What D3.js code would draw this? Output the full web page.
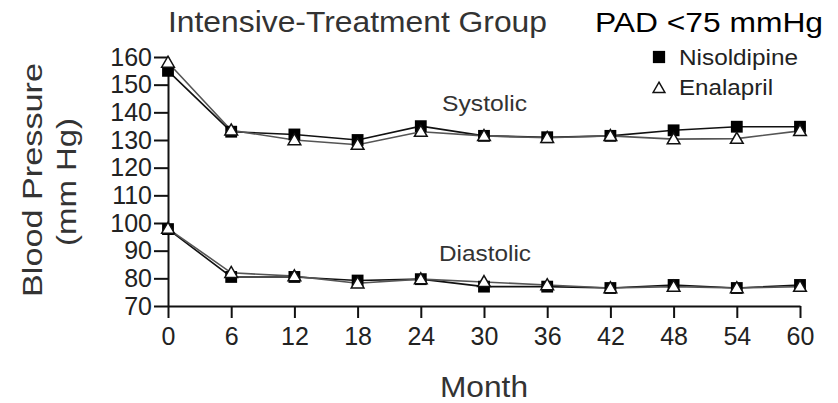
<!DOCTYPE html>
<html>
<head>
<meta charset="utf-8">
<script src="https://cdn.jsdelivr.net/npm/d3@7"></script>
<style>
    body { margin: 0; background: #fff; }
    svg { display: block; font-family: "Liberation Sans", Arial, sans-serif; }
    .axis path, .axis line { stroke: #111; stroke-width: 2; }
    .axis text { font-size: 25px; fill: #222; }
</style>
</head>
<body>
<svg id="chart" width="838" height="403"></svg>
<script>
// months on x axis
const months = [0, 6, 12, 18, 24, 30, 36, 42, 48, 54, 60];
const yTicks = [70, 80, 90, 100, 110, 120, 130, 140, 150, 160];

// values (mm Hg)
const nisoSystolic = [155, 133, 132, 130, 135, 131.5, 131, 131.5, 133.5, 134.8, 134.8];
const enalSystolic = [158, 133.5, 130, 128.3, 133, 131.5, 130.8, 131.5, 130.3, 130.5, 133.3];
const nisoDiastolic = [97.8, 80.5, 80.5, 79.2, 79.7, 77, 77, 76.5, 77.6, 76.5, 77.6];
const enalDiastolic = [98, 82, 80.8, 78.2, 79.7, 78.7, 77.6, 76.5, 77, 76.5, 77];

const svg = d3.select("#chart");

let xScale = d3.scaleLinear().domain([0, 60]).range([168, 800]);
let yScale = d3.scaleLinear().domain([70, 160]).range([306, 57]);

// axes
svg.append("g")
    .attr("class", "axis")
    .attr("transform", `translate(0, ${yScale(70)})`)
    .call(d3.axisBottom(xScale).tickValues(months).tickSize(12).tickSizeOuter(0).tickPadding(9));

svg.append("g")
    .attr("class", "axis")
    .attr("transform", `translate(${xScale(0)}, 0)`)
    .call(d3.axisLeft(yScale).tickValues(yTicks).tickSize(14).tickSizeOuter(0).tickPadding(2));

// lines + markers
const series = [
    { vals: nisoSystolic, kind: "square", stroke: "#111" },
    { vals: nisoDiastolic, kind: "square", stroke: "#111" },
    { vals: enalSystolic, kind: "tri", stroke: "#555" },
    { vals: enalDiastolic, kind: "tri", stroke: "#555" }
];

const line = d3.line()
    .x((d, i) => xScale(months[i]))
    .y(d => yScale(d));

series.forEach(s => {
    svg.append("path")
        .attr("d", line(s.vals))
        .attr("fill", "none")
        .attr("stroke", s.stroke)
        .attr("stroke-width", 1.6);
});

const sq = d3.symbol().type(d3.symbolSquare).size(140);
const tri = d3.symbol().type(d3.symbolTriangle).size(70);

series.filter(s => s.kind == "square").forEach(s => {
    svg.append("g").selectAll("path")
        .data(s.vals)
        .enter()
        .append("path")
        .attr("d", sq)
        .attr("transform", (d, i) => `translate(${xScale(months[i])}, ${yScale(d)})`)
        .attr("fill", "#000");
});

series.filter(s => s.kind == "tri").forEach(s => {
    svg.append("g").selectAll("path")
        .data(s.vals)
        .enter()
        .append("path")
        .attr("d", tri)
        .attr("transform", (d, i) => `translate(${xScale(months[i])}, ${yScale(d) + 1})`)
        .attr("fill", "#fff")
        .attr("stroke", "#111")
        .attr("stroke-width", 1.5);
});

// texts
function addText(str, x, y, size, len, color, anchor) {
    return svg.append("text")
        .attr("x", x)
        .attr("y", y)
        .attr("font-size", size)
        .attr("fill", color)
        .attr("text-anchor", anchor || "start")
        .attr("textLength", len)
        .attr("lengthAdjust", "spacingAndGlyphs")
        .text(str);
}

addText("Intensive-Treatment Group", 168, 32, 29, 379, "#333");
addText("PAD <75 mmHg", 595, 32, 27, 228, "#000");
addText("Systolic", 442, 111, 22, 85, "#333");
addText("Diastolic", 439, 261, 22, 92, "#333");
addText("Month", 484, 397, 30, 88, "#333", "middle");

addText("Blood Pressure", 0, 0, 28, 234, "#333", "middle")
    .attr("transform", "translate(42, 180) rotate(-90)");
addText("(mm Hg)", 0, 0, 28, 128, "#333", "middle")
    .attr("transform", "translate(76, 182) rotate(-90)");

// legend
svg.append("path")
    .attr("d", d3.symbol().type(d3.symbolSquare).size(150))
    .attr("transform", "translate(659, 57)")
    .attr("fill", "#000");
svg.append("path")
    .attr("d", d3.symbol().type(d3.symbolTriangle).size(60))
    .attr("transform", "translate(659, 89)")
    .attr("fill", "#fff")
    .attr("stroke", "#111")
    .attr("stroke-width", 1.5);
addText("Nisoldipine", 679, 65, 22, 119, "#222");
addText("Enalapril", 679, 95, 22, 94, "#222");
</script>
</body>
</html>
